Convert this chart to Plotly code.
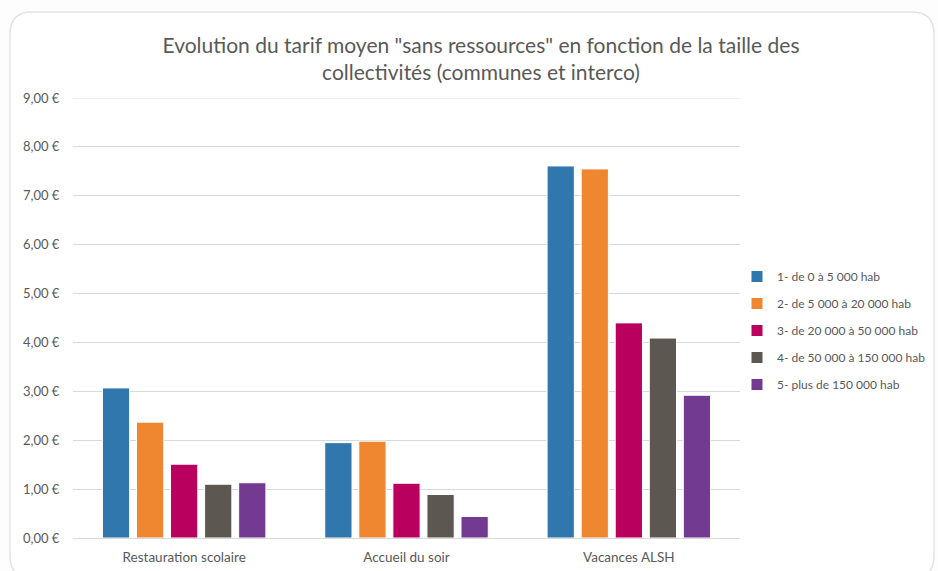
import plotly.graph_objects as go

categories = ["Restauration scolaire", "Accueil du soir", "Vacances ALSH"]
series_names = [
    "1- de 0 à 5 000 hab",
    "2- de 5 000 à 20 000 hab",
    "3- de 20 000 à 50 000 hab",
    "4- de 50 000 à 150 000 hab",
    "5- plus de 150 000 hab",
]
tranche_0_5k = [3.07, 1.95, 7.61]
tranche_5k_20k = [2.37, 1.98, 7.55]
tranche_20k_50k = [1.51, 1.12, 4.40]
tranche_50k_150k = [1.10, 0.89, 4.09]
tranche_150k_plus = [1.13, 0.44, 2.92]
y_tick_values = [0, 1, 2, 3, 4, 5, 6, 7, 8, 9]
y_tick_labels = ["0,00 €", "1,00 €", "2,00 €", "3,00 €", "4,00 €",
                 "5,00 €", "6,00 €", "7,00 €", "8,00 €", "9,00 €"]

colors = ["#2F77AD", "#EF8630", "#BA005F", "#5C5851", "#733A92"]
series = [tranche_0_5k, tranche_5k_20k, tranche_20k_50k,
          tranche_50k_150k, tranche_150k_plus]

W, H = 938, 571
L, R, T, B = 73, 198, 98, 33
PW, PH = W - L - R, H - T - B

def px(x):
    return (x - L) / PW

def py(y):
    return (H - B - y) / PH

fig = go.Figure()
for name, vals, col in zip(series_names, series, colors):
    fig.add_trace(go.Bar(
        x=categories, y=vals, name=name, legendgroup=name,
        marker=dict(color=col, line=dict(color="white", width=1)),
    ))

# rounded card behind the chart
x0, y0, x1, y1, r = 10, 12, 934, 578, 22
path = (
    f"M {px(x0 + r)},{py(y0)} L {px(x1 - r)},{py(y0)} "
    f"Q {px(x1)},{py(y0)} {px(x1)},{py(y0 + r)} "
    f"L {px(x1)},{py(y1 - r)} Q {px(x1)},{py(y1)} {px(x1 - r)},{py(y1)} "
    f"L {px(x0 + r)},{py(y1)} Q {px(x0)},{py(y1)} {px(x0)},{py(y1 - r)} "
    f"L {px(x0)},{py(y0 + r)} Q {px(x0)},{py(y0)} {px(x0 + r)},{py(y0)} Z"
)
fig.add_shape(type="path", path=path, xref="paper", yref="paper",
              line=dict(color="#e3e3e3", width=1.5), fillcolor="white",
              layer="below")

# top gridline at the upper edge of the value range
fig.add_shape(type="line", xref="paper", yref="y", x0=0, x1=1,
              y0=y_tick_values[-1], y1=y_tick_values[-1],
              line=dict(color="#d9d9d9", width=1), layer="below")

font_family = "Lato, 'Open Sans', sans-serif"
fig.update_layout(
    width=W, height=H,
    margin=dict(l=L, r=R, t=T, b=B, autoexpand=False),
    paper_bgcolor="#fdfdfd",
    plot_bgcolor="rgba(0,0,0,0)",
    font=dict(family=font_family, color="#595959", size=12),
    title=dict(
        text="Evolution du tarif moyen \"sans ressources\" en fonction de la taille des<br>collectivités (communes et interco)",
        x=(481 / W), xanchor="center", y=1 - 53 / H, yanchor="middle",
        font=dict(size=21, color="#595959", family=font_family),
    ),
    barmode="group",
    bargap=0.234,
    bargroupgap=0.2,
    showlegend=True,
    legend=dict(
        x=px(737), xanchor="left", y=py(262), yanchor="top",
        font=dict(size=12, color="#595959"),
        tracegroupgap=8, bgcolor="rgba(0,0,0,0)",
        itemwidth=30,
    ),
    xaxis=dict(
        automargin=False,
        showgrid=False, zeroline=False, showline=False,
        tickfont=dict(size=13.5, color="#595959"),
        ticks="outside", ticklen=7, tickcolor="rgba(0,0,0,0)",
    ),
    yaxis=dict(
        automargin=False,
        range=[0, 9], tickvals=y_tick_values, ticktext=y_tick_labels,
        showgrid=True, gridcolor="#d9d9d9", gridwidth=1,
        zeroline=True, zerolinecolor="#d9d9d9", zerolinewidth=1,
        showline=False,
        tickfont=dict(size=13, color="#595959"),
        ticks="outside", ticklen=10, tickcolor="rgba(0,0,0,0)",
    ),
)

fig.write_html("out.html")
